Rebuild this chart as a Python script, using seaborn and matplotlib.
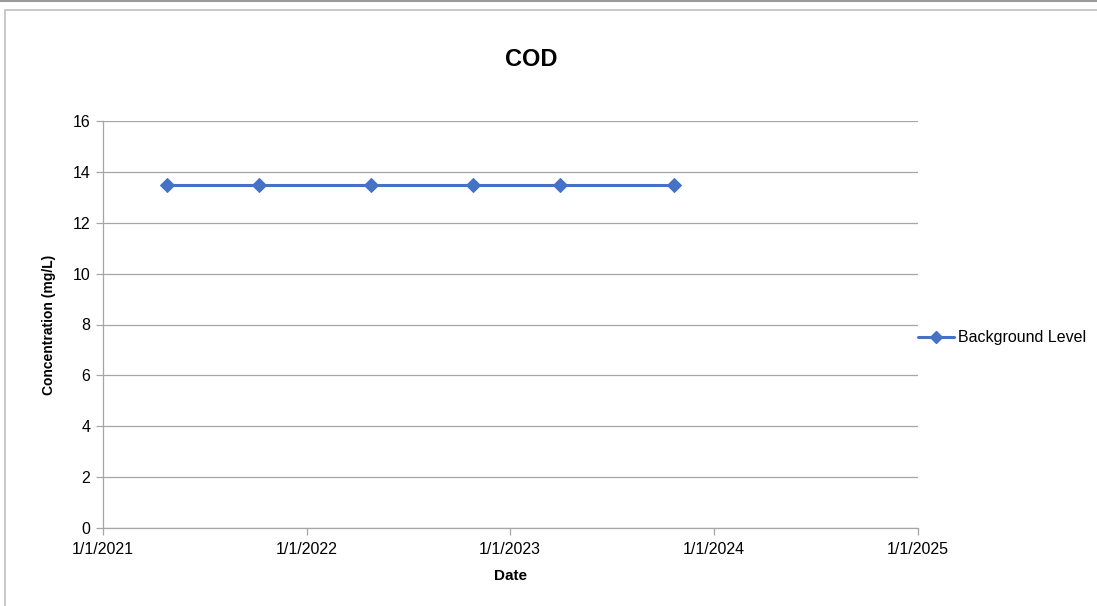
import numpy as np
import matplotlib
matplotlib.use("Agg")
import matplotlib.pyplot as plt
import matplotlib.dates as mdates
from matplotlib.ticker import FuncFormatter
from matplotlib.lines import Line2D
import pandas as pd
import seaborn as sns

# data
dates = ["2021-04-25", "2021-10-07", "2022-04-26", "2022-10-26", "2023-04-01", "2023-10-22"]
values = [13.5, 13.5, 13.5, 13.5, 13.5, 13.5]
series_name = "Background Level"
year_ticks = ["2021-01-01", "2022-01-01", "2023-01-01", "2024-01-01", "2025-01-01"]
y_ticks = [0, 2, 4, 6, 8, 10, 12, 14, 16]

sns.set_style("white")
plt.rcParams["font.family"] = ["Liberation Sans", "DejaVu Sans"]
plt.rcParams["text.color"] = "black"
plt.rcParams["axes.labelcolor"] = "black"

df = pd.DataFrame({"date": pd.to_datetime(dates), "value": values})

fig = plt.figure(figsize=(10.97, 6.06), dpi=100)
ax = fig.add_axes([103/1097, 1-528/606, (918-103)/1097, (528-121)/606])

blue = "#4472C4"
sns.lineplot(data=df, x="date", y="value", marker="D", markersize=7,
             color=blue, linewidth=2.2, markeredgecolor=blue, ax=ax, legend=False)

# axes styling (Excel look)
grey = "#a6a6a6"
ax.set_ylim(0, 16)
ax.set_yticks(y_ticks)
ax.set_xlim(pd.Timestamp(year_ticks[0]), pd.Timestamp(year_ticks[-1]))
ax.set_xticks(pd.to_datetime(year_ticks))
ax.xaxis.set_major_formatter(FuncFormatter(
    lambda v, p: "{d.month}/{d.day}/{d.year}".format(d=mdates.num2date(v))))
ax.yaxis.grid(True, color=grey, linewidth=0.9)
ax.xaxis.grid(False)
for s in ["top", "right"]:
    ax.spines[s].set_visible(False)
for s in ["left", "bottom"]:
    ax.spines[s].set_color(grey)
    ax.spines[s].set_linewidth(0.9)
ax.tick_params(axis="both", which="major", direction="out", length=5, width=0.9,
               color=grey, labelsize=11.5, labelcolor="#000000", pad=4)
ax.tick_params(axis="x", pad=5)
ax.tick_params(left=True, bottom=True)

ax.set_xlabel("Date", fontsize=11, fontweight="bold", labelpad=9)
ax.set_ylabel("Concentration (mg/L)", fontsize=10, fontweight="bold", labelpad=12)
fig.text(531/1097, 1-60/606, "COD", fontsize=17, fontweight="bold",
         ha="center", va="center", color="black")

# legend outside right
handle = Line2D([0], [0], color=blue, marker="D", markersize=6.5, linewidth=2.2)
ax.legend([handle], [series_name], loc="center left", frameon=False,
          bbox_to_anchor=(1.0, 0.467), fontsize=11.5, handlelength=2.25,
          handletextpad=0.25, borderaxespad=0, borderpad=0)

# chart area frame
fig.add_artist(Line2D([0, 1], [1-0.8/606, 1-0.8/606], color="#9a9a9a", linewidth=1.5,
                      transform=fig.transFigure))
fig.add_artist(plt.Rectangle((5/1097, -0.05), 1.1, 1-10.5/606+0.05, fill=False,
                             edgecolor="#bfbfbf", linewidth=1.2,
                             transform=fig.transFigure))

fig.savefig("out.png", dpi=100)
